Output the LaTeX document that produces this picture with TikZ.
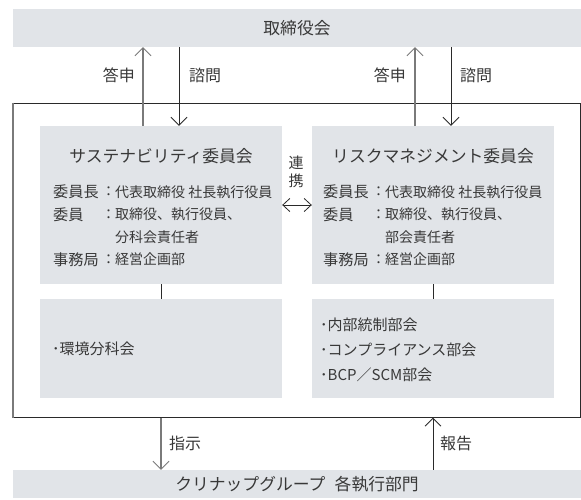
\documentclass[tikz,border=0pt]{standalone}
\usepackage{fontspec}
\setmainfont{Noto Sans CJK JP}
\usetikzlibrary{arrows.meta}
\definecolor{boxgray}{HTML}{E1E4E8}
\definecolor{txt}{HTML}{383838}
\definecolor{linegray}{HTML}{7A7A7A}
\definecolor{linedark}{HTML}{2A2A2A}
\begin{document}
\begin{tikzpicture}[x=1pt,y=-1pt,
  panel/.style={fill=boxgray, inner sep=0pt, minimum width=242pt},
  bar/.style={fill=boxgray, inner sep=0pt, minimum width=568pt},
  ttl/.style={font=\fontsize{16.8}{20}\selectfont, text=txt, inner sep=0pt},
  body/.style={font=\fontsize{14}{16}\selectfont, text=txt, inner sep=0pt, anchor=west},
  head/.style={font=\fontsize{15.2}{17}\selectfont, text=txt, inner sep=0pt, anchor=west},
  colon/.style={font=\fontsize{14}{16}\selectfont, text=txt, inner sep=0pt},
  item/.style={font=\fontsize{15}{17}\selectfont, text=txt, inner sep=0pt, anchor=west},
  lbl/.style={font=\fontsize{16}{18}\selectfont, text=txt, inner sep=0pt},
  uparr/.style={draw=linegray, line width=1.6pt, -{Straight Barb[length=8pt,width=16pt,line width=0.9pt]}},
  dnarr/.style={draw=linedark, line width=1pt, -{Straight Barb[length=8pt,width=16pt,line width=0.9pt]}},
  dblarr/.style={draw=linedark, line width=0.8pt, {Straight Barb[length=7pt,width=13pt,line width=0.8pt]}-{Straight Barb[length=7pt,width=13pt,line width=0.8pt]}},
  link/.style={draw=linedark, line width=1pt}
]
\useasboundingbox (0,0) rectangle (581,499);
\fill[white] (0,0) rectangle (581,499);

% bars
\node[bar, minimum height=38pt] (board) at (297,28) {};
\node[ttl] (boardt) at (297,28) {取締役会};
\node[bar, minimum height=28pt] (exec) at (297,484) {};
\node[ttl] (exect) at (297,484) {クリナップグループ\hspace{0.55em}各執行部門};

% outer frame
\node[draw=linedark, line width=1pt, inner sep=0pt, minimum width=567pt, minimum height=314pt] (outer) at (296.5,260) {};
\draw[linegray, line width=2pt] (outer.north west) -- (outer.south west);

% panels
\node[panel, minimum height=158pt] (s1) at (161,205) {};
\node[panel, minimum height=99pt] (s2) at (161,348.5) {};
\node[panel, minimum height=158pt] (r1) at (433,205) {};
\node[panel, minimum height=99pt] (r2) at (433,348.5) {};

% panel texts
\node[ttl] (s1t) at (161,156) {サステナビリティ委員会};
\node[ttl] (r1t) at (433,156) {リスクマネジメント委員会};

\foreach \dx/\p/\third in {0/s/分科会責任者, 270/r/部会責任者}{
  \node[head] (\p a1) at (53+\dx,192) {委員長};
  \node[colon] (\p c1) at (108.5+\dx,192) {：};
  \node[body] (\p b1) at (115+\dx,192) {代表取締役 社長執行役員};
  \node[head] (\p a2) at (53+\dx,214.5) {委員};
  \node[colon] (\p c2) at (108.5+\dx,214.5) {：};
  \node[body] (\p b2) at (115+\dx,214.5) {取締役、執行役員、};
  \node[body] (\p b3) at (115+\dx,237) {\third};
  \node[head] (\p a4) at (53+\dx,259.5) {事務局};
  \node[colon] (\p c4) at (108.5+\dx,259.5) {：};
  \node[body] (\p b4) at (115+\dx,259.5) {経営企画部};
}

\node[item] (s2i) at (52,349) {･環境分科会};
\node[item] (r2i1) at (320,325) {･内部統制部会};
\node[item] (r2i2) at (320,350) {･コンプライアンス部会};
\node[item] (r2i3) at (320,375) {･BCP／SCM部会};

% connectors between panels
\draw[link] (s1.south) -- (s2.north);
\draw[link] (r1.south) -- (r2.north);

% board arrows
\draw[uparr] ([xshift=-18pt]s1.north) -- ([xshift=-18pt]s1.north |- board.south);
\draw[dnarr] ([xshift=18pt]s1.north |- board.south) -- ([xshift=18pt]s1.north);
\draw[uparr] ([xshift=-18pt]r1.north) -- ([xshift=-18pt]r1.north |- board.south);
\draw[dnarr] ([xshift=18pt]r1.north |- board.south) -- ([xshift=18pt]r1.north);
\node[lbl, anchor=east] (l1) at (135,75) {答申};
\node[lbl, anchor=west] (l2) at (189,75) {諮問};
\node[lbl, anchor=east] (l3) at (406,75) {答申};
\node[lbl, anchor=west] (l4) at (460,75) {諮問};

% link between committees
\draw[dblarr] (s1.east) -- (r1.west);
\node[font=\fontsize{15}{17.5}\selectfont, text=txt, align=center, inner sep=0pt] (renkei) at (296,172) {連\\携};

% exec arrows
\draw[dnarr, draw=linegray, line width=1.4pt] (s2.south |- outer.south) -- (s2.south |- exec.north);
\draw[dnarr] (r2.south |- exec.north) -- (r2.south |- outer.south);
\node[lbl, anchor=west] (l5) at (169,443) {指示};
\node[lbl, anchor=west] (l6) at (440,443) {報告};
\end{tikzpicture}
\end{document}
